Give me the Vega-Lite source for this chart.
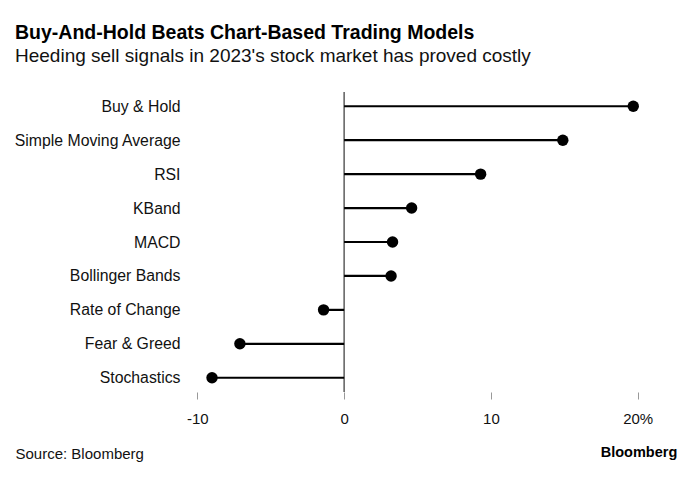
{
  "$schema": "https://vega.github.io/schema/vega-lite/v6.json",
  "width": 455,
  "height": 300,
  "autosize": {"type": "none"},
  "padding": {"left": 190, "top": 92, "right": 55, "bottom": 85},
  "background": "white",
  "config": {"view": {"stroke": null}, "font": "Liberation Sans"},
  "title": {
    "text": "Buy-And-Hold Beats Chart-Based Trading Models",
    "subtitle": "Heeding sell signals in 2023's stock market has proved costly",
    "anchor": "start",
    "frame": "group",
    "dx": -175,
    "offset": 24,
    "font": "Liberation Sans",
    "fontSize": 19.5,
    "fontWeight": "bold",
    "color": "#000000",
    "subtitleFont": "Liberation Sans",
    "subtitleFontSize": 19,
    "subtitleColor": "#111111",
    "subtitlePadding": 4
  },
  "data": {
    "values": [
      {"model": "Buy & Hold", "ret": 19.7},
      {"model": "Simple Moving Average", "ret": 14.9},
      {"model": "RSI", "ret": 9.3},
      {"model": "KBand", "ret": 4.6},
      {"model": "MACD", "ret": 3.3},
      {"model": "Bollinger Bands", "ret": 3.2},
      {"model": "Rate of Change", "ret": -1.4},
      {"model": "Fear & Greed", "ret": -7.1},
      {"model": "Stochastics", "ret": -9.0}
    ]
  },
  "encoding": {
    "y": {
      "field": "model",
      "type": "nominal",
      "sort": null,
      "scale": {"type": "point", "padding": 0.42},
      "axis": {
        "title": null,
        "domain": false,
        "ticks": false,
        "labelFontSize": 15.8,
        "labelPadding": 10,
        "labelColor": "#111111"
      }
    }
  },
  "layer": [
    {
      "data": {"values": [{"z": 0}]},
      "mark": {"type": "rule", "color": "#444444", "strokeWidth": 1.3},
      "encoding": {"x": {"field": "z", "type": "quantitative"}, "y": null}
    },
    {
      "mark": {"type": "rule", "color": "#000000", "strokeWidth": 2.2},
      "encoding": {
        "x": {
          "field": "ret",
          "type": "quantitative",
          "scale": {"domain": [-10.5, 20.5], "nice": false, "zero": false},
          "axis": {
            "values": [-10, 0, 10, 20],
            "labelExpr": "datum.value == 20 ? '20%' : replace(datum.label, '\u2212', '-')",
            "domain": false,
            "grid": false,
            "tickColor": "#999999",
            "tickSize": 7,
            "labelFontSize": 15,
            "labelPadding": 12,
            "labelColor": "#111111",
            "title": "Source: Bloomberg",
            "titleX": -175,
            "titleY": 61,
            "titleAnchor": null,
            "titleAlign": "left",
            "titleBaseline": "middle",
            "titleFontWeight": "normal",
            "titleFontSize": 15,
            "titleColor": "#111111"
          }
        },
        "x2": {"datum": 0}
      }
    },
    {
      "mark": {"type": "circle", "color": "#000000", "opacity": 1, "size": 130},
      "encoding": {"x": {"field": "ret", "type": "quantitative"}}
    },
    {
      "data": {"values": [{"t": "Bloomberg"}]},
      "mark": {"type": "text", "align": "right", "baseline": "middle", "fontWeight": "bold", "fontSize": 14.5, "dy": 75, "color": "#000000"},
      "encoding": {
        "x": {"datum": 22.7},
        "y": {"datum": "Stochastics"},
        "text": {"field": "t"}
      }
    }
  ]
}
